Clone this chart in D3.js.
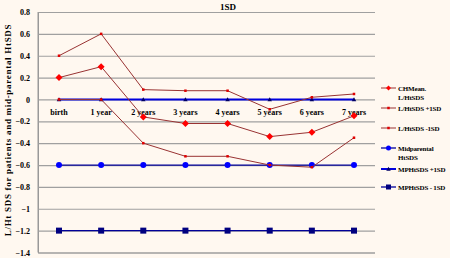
<!DOCTYPE html>
<html><head><meta charset="utf-8">
<script src="https://cdn.jsdelivr.net/npm/d3@7/dist/d3.min.js"></script>
<style>
html,body{margin:0;padding:0;background:#FFF8F0;}
svg{display:block;font-family:"Liberation Serif","Times New Roman",serif;font-weight:bold;}
</style></head>
<body>
<svg id="c" width="450" height="258"></svg>
<script>
const categories = ["birth","1 year","2 years","3 years","4 years","5 years","6 years","7 years"];
const chMean   = [0.2, 0.3, -0.16, -0.22, -0.22, -0.34, -0.3, -0.15];
const chPlus1  = [0.4, 0.6, 0.09, 0.08, 0.08, -0.09, 0.02, 0.05];
const chMinus1 = [0.0, 0.0, -0.4, -0.52, -0.52, -0.6, -0.62, -0.35];
const midParental = [-0.6, -0.6, -0.6, -0.6, -0.6, -0.6, -0.6, -0.6];
const mpPlus1  = [0, 0, 0, 0, 0, 0, 0, 0];
const mpMinus1 = [-1.2, -1.2, -1.2, -1.2, -1.2, -1.2, -1.2, -1.2];
const yTicks = [0.8,0.6,0.4,0.2,0,-0.2,-0.4,-0.6,-0.8,-1,-1.2,-1.4];
const seriesNames = ["CHMean. L/HtSDS","L/HtSDS +1SD","L/HtSDS -1SD","Midparental HtSDS","MPHtSDS +1SD","MPHtSDS - 1SD"];

const svg = d3.select("#c");
svg.append("rect").attr("width",450).attr("height",258).attr("fill","#FFF8F0");

const x = d3.scalePoint().domain(categories).range([59,354]);
const y = d3.scaleLinear().domain([-1.4,0.8]).range([252.5,12]);

// gridlines
const yAxis = d3.axisLeft(y).tickValues(yTicks).tickSize(-337).tickPadding(8)
  .tickFormat(d => d3.format("")(Math.round(d*10)/10));
const ga = svg.append("g").attr("transform","translate(38,0)").call(yAxis);
ga.select(".domain").attr("stroke","#999");
ga.selectAll(".tick line").attr("stroke","#A0A0A0").attr("stroke-width",1.2);
ga.selectAll(".tick text").attr("font-size",8).attr("font-family","Liberation Serif").attr("font-weight","bold").attr("fill","#000").attr("x",-8);
svg.append("line").attr("x1",38).attr("x2",38).attr("y1",y(0.8)).attr("y2",y(-1.4)).attr("stroke","#999");

// category labels
svg.append("g").selectAll("text").data(categories).join("text")
  .attr("x",d=>x(d)).attr("y",y(0)+16).attr("text-anchor","middle")
  .attr("font-size",8).text(d=>d);

// title
svg.append("text").attr("x",228).attr("y",10).attr("text-anchor","middle").attr("font-size",9).text("1SD");

// y-axis title
svg.append("text").attr("transform","translate(11,130) rotate(-90)").attr("text-anchor","middle")
  .attr("font-size",9).attr("letter-spacing",0.7).text("L/Ht SDS for patients and mid-parental HtSDS");

const line = d3.line().x((d,i)=>x(categories[i])).y(d=>y(d));

const series = [
  {name:seriesNames[0], data:chMean, stroke:"#993333", sw:1, marker:"diamond", mfill:"#FF0000", ms:7},
  {name:seriesNames[1], data:chPlus1, stroke:"#993333", sw:1, marker:"square", mfill:"#E00000", ms:2.5},
  {name:seriesNames[2], data:chMinus1, stroke:"#993333", sw:1, marker:"square", mfill:"#E00000", ms:2.5},
  {name:seriesNames[3], data:midParental, stroke:"#000099", sw:1.3, marker:"circle", mfill:"#0000FF", ms:6},
  {name:seriesNames[4], data:mpPlus1, stroke:"#0000DD", sw:2, marker:"triangle", mfill:"#000066", ms:4.5},
  {name:seriesNames[5], data:mpMinus1, stroke:"#000099", sw:1.3, marker:"square", mfill:"#000080", ms:6}
];

function drawMarker(g, type, cx, cy, s, fill){
  if(type==="diamond"){
    g.append("path").attr("d",`M${cx},${cy-s/2}L${cx+s/2},${cy}L${cx},${cy+s/2}L${cx-s/2},${cy}Z`).attr("fill",fill);
  } else if(type==="square"){
    g.append("rect").attr("x",cx-s/2).attr("y",cy-s/2).attr("width",s).attr("height",s).attr("fill",fill);
  } else if(type==="circle"){
    g.append("circle").attr("cx",cx).attr("cy",cy).attr("r",s/2).attr("fill",fill);
  } else if(type==="triangle"){
    g.append("path").attr("d",`M${cx},${cy-s/2}L${cx+s/2},${cy+s/2-0.5}L${cx-s/2},${cy+s/2-0.5}Z`).attr("fill",fill);
  }
}

const order = [5,3,4,2,1,0];
order.forEach(k=>{
  const s = series[k];
  const g = svg.append("g");
  g.append("path").datum(s.data).attr("d",line).attr("fill","none").attr("stroke",s.stroke).attr("stroke-width",s.sw);
  s.data.forEach((v,i)=>drawMarker(g,s.marker,x(categories[i]),y(v),s.ms,s.mfill));
});

// legend
const legY = [88,108,128,148,169,187];
const lg = svg.append("g");
series.forEach((s,k)=>{
  const yy = legY[k];
  lg.append("line").attr("x1",381).attr("x2",396).attr("y1",yy).attr("y2",yy).attr("stroke",s.stroke).attr("stroke-width",s.sw);
  drawMarker(lg,s.marker,388.5,yy,Math.min(s.ms,5),s.mfill);
  const parts = (k===0) ? ["CHMean.","L/HtSDS"] : (k===3 ? ["Midparental","HtSDS"] : [s.name]);
  parts.forEach((p,j)=>{
    lg.append("text").attr("x",398).attr("y",yy+2.5+j*9.5).attr("font-size",7).attr("letter-spacing",-0.2).text(p);
  });
});
</script>
</body></html>
